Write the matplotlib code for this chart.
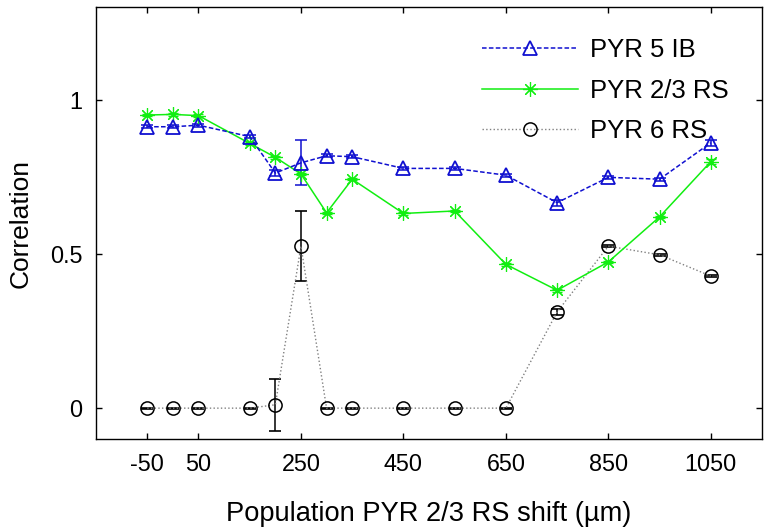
import matplotlib
matplotlib.use('Agg')
import matplotlib.pyplot as plt

plt.rcParams['font.family'] = ['Liberation Sans', 'DejaVu Sans']

# Population shift (um) and correlation values
shift = [-50, 0, 50, 150, 200, 250, 300, 350, 450, 550, 650, 750, 850, 950, 1050]

pyr5_ib = [0.912, 0.912, 0.917, 0.880, 0.762, 0.795, 0.818, 0.815, 0.777, 0.777, 0.755, 0.666, 0.748, 0.742, 0.860]
pyr5_ib_err = [0.005, 0.005, 0.005, 0.005, 0.01, 0.073, 0.005, 0.005, 0.005, 0.005, 0.005, 0.01, 0.005, 0.005, 0.01]

pyr23_rs = [0.950, 0.952, 0.948, 0.858, 0.813, 0.759, 0.633, 0.742, 0.631, 0.639, 0.466, 0.382, 0.474, 0.620, 0.799]
pyr23_rs_err = [0.004, 0.004, 0.004, 0.004, 0.004, 0.004, 0.004, 0.004, 0.004, 0.004, 0.004, 0.004, 0.004, 0.004, 0.008]

pyr6_rs = [0.0, 0.0, 0.0, 0.0, 0.011, 0.525, 0.0, 0.0, 0.0, 0.0, 0.0, 0.312, 0.525, 0.497, 0.428]
pyr6_rs_err = [0.002, 0.002, 0.002, 0.002, 0.085, 0.113, 0.002, 0.002, 0.002, 0.002, 0.002, 0.01, 0.003, 0.003, 0.003]

xticks = [-50, 50, 250, 450, 650, 850, 1050]
yticks = [0, 0.5, 1]
yticklabels = ['0', '0.5', '1']

blue = '#1010d0'
green = '#11ee11'

fig = plt.figure(figsize=(7.7, 5.32), dpi=100)
ax = fig.add_axes([0.1247, 0.1748, 0.865, 0.812])

# PYR 6 RS: gray dotted line, black circles and error bars
ax.errorbar(shift, pyr6_rs, yerr=pyr6_rs_err, fmt='none', ecolor='k', elinewidth=1.1, capsize=4, capthick=1.2, zorder=2)
l6, = ax.plot(shift, pyr6_rs, linestyle=':', color='0.5', lw=1.0, marker='o', markersize=9.5,
              markerfacecolor='none', markeredgecolor='k', markeredgewidth=1.1, zorder=3)

# PYR 2/3 RS: green solid with asterisks
ax.errorbar(shift, pyr23_rs, yerr=pyr23_rs_err, fmt='none', ecolor=green, elinewidth=1.0, capsize=3.5, capthick=1.0, zorder=2)
l23, = ax.plot(shift, pyr23_rs, linestyle='-', color=green, lw=1.1, marker=(8, 2, 0), markersize=10.5,
               markeredgecolor=green, markeredgewidth=0.85, zorder=4)

# PYR 5 IB: blue dashed with triangles
ax.errorbar(shift, pyr5_ib, yerr=pyr5_ib_err, fmt='none', ecolor=blue, elinewidth=1.1, capsize=4, capthick=1.1, zorder=2)
l5, = ax.plot(shift, pyr5_ib, linestyle=(0, (3, 1.5)), color=blue, lw=1.1, marker='^', markersize=10,
              markerfacecolor='none', markeredgecolor=blue, markeredgewidth=1.3, zorder=5)

ax.set_xlim(-150, 1150)
ax.set_ylim(-0.1, 1.3)
ax.set_xticks(xticks)
ax.set_xticklabels([str(t) for t in xticks])
ax.set_yticks(yticks)
ax.set_yticklabels(yticklabels)
ax.tick_params(direction='in', top=True, right=True, length=4.5, width=1.0, labelsize=16.8, pad=10)
for sp in ax.spines.values():
    sp.set_linewidth(1.0)

ax.set_xlabel('Population PYR 2/3 RS shift (\u00b5m)', fontsize=19.6, labelpad=18)
ax.set_ylabel('Correlation', fontsize=19, labelpad=12)

leg = ax.legend([l5, l23, l6], ['PYR 5 IB', 'PYR 2/3 RS', 'PYR 6 RS'], frameon=False, fontsize=18.5,
                loc='upper left', bbox_to_anchor=(482 / 770, 1 - 38 / 532), bbox_transform=fig.transFigure,
                borderpad=0, borderaxespad=0, handlelength=3.75, handletextpad=0.45, labelspacing=0.65)
leg.set_zorder(1)

fig.savefig('out.png', dpi=100)
